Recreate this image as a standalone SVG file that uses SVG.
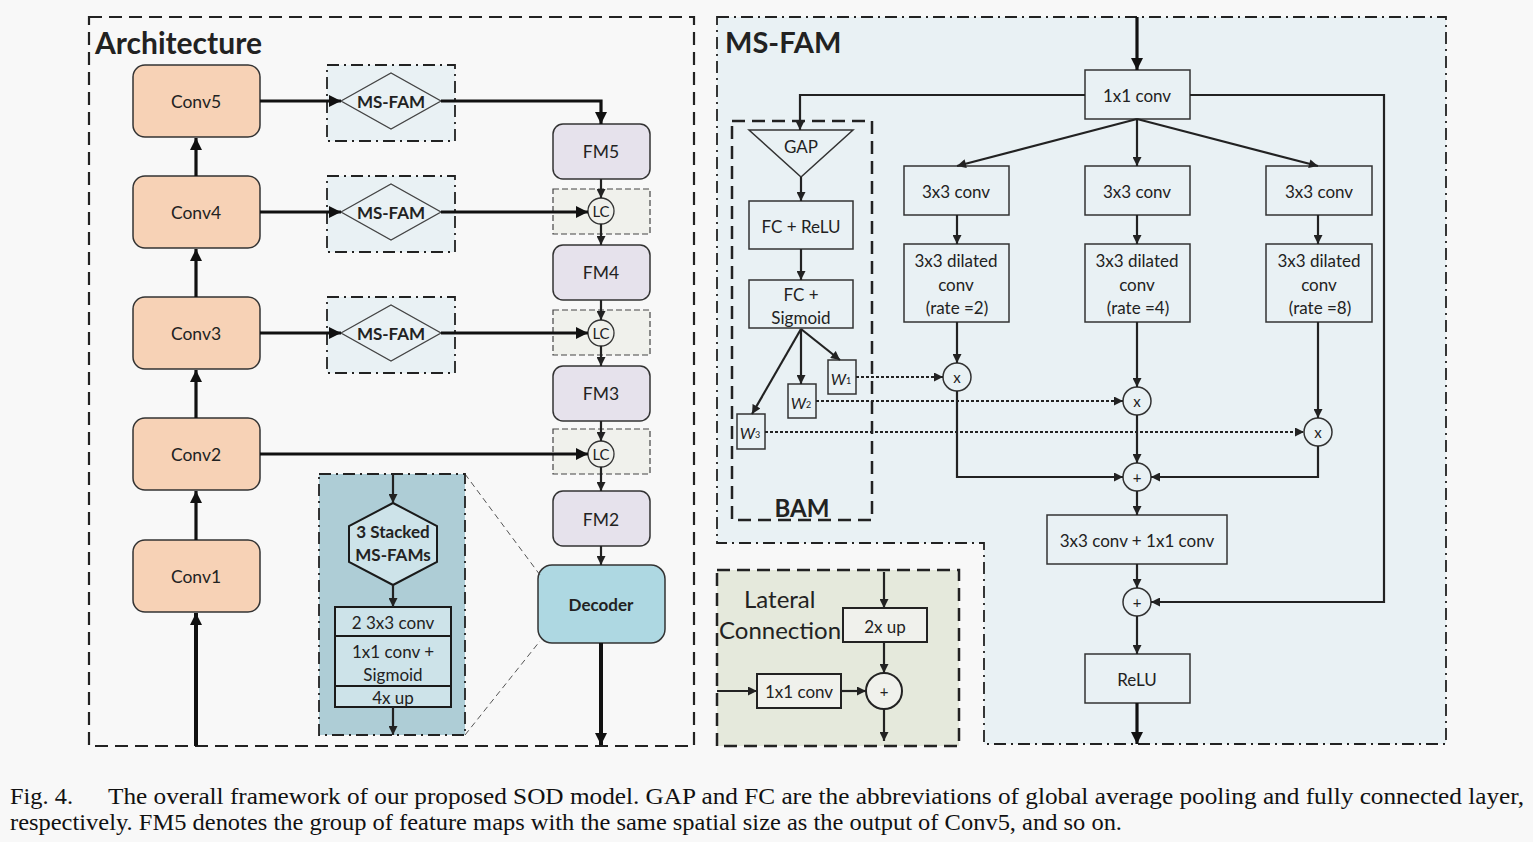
<svg xmlns="http://www.w3.org/2000/svg" width="1533" height="842" viewBox="0 0 1533 842">
<defs>
<style>
.t{font-family:Lato,"Open Sans","Liberation Sans",sans-serif;fill:#222;text-anchor:middle;dominant-baseline:central}
.b{font-weight:bold}
.conv{fill:#f7d2b6;stroke:#333;stroke-width:1.5}
.fm{fill:#e6e2ec;stroke:#333;stroke-width:1.5}
.bx{fill:none;stroke:#333;stroke-width:1.5}
.ln{fill:none;stroke:#222;stroke-width:2.2}
.thk{fill:none;stroke:#111;stroke-width:3.2}
.dot{fill:none;stroke:#222;stroke-width:2.2;stroke-dasharray:3 2}
.dashbig{stroke:#222;stroke-width:2.2;stroke-dasharray:13 7}
.dashdot{stroke:#222;stroke-width:1.8;stroke-dasharray:12 5 2 5}
.cap{font-family:"Liberation Serif","Times New Roman",serif;font-size:23px;fill:#111}
</style>
<marker id="a" viewBox="0 0 10 10" refX="10" refY="5" markerWidth="10" markerHeight="9" markerUnits="userSpaceOnUse" orient="auto"><path d="M0,0L10,5L0,10z" fill="#222"/></marker>
<marker id="A" viewBox="0 0 10 10" refX="10" refY="5" markerWidth="14" markerHeight="12" markerUnits="userSpaceOnUse" orient="auto"><path d="M0,0L10,5L0,10z" fill="#111"/></marker>
</defs>
<rect width="1533" height="842" fill="#f8f8f8"/>

<!-- containers -->
<g id="architecture-frame">
<rect x="89" y="17" width="605" height="729" fill="none" class="dashbig"/>
<text x="95" y="42" class="t b" style="text-anchor:start;font-size:30px">Architecture</text>
</g>
<g id="msfam-frame">
<path d="M717,17H1446V744H984V543H717Z" fill="#e9f1f4" class="dashdot"/>
<text x="725" y="41" class="t b" style="text-anchor:start;font-size:29px">MS-FAM</text>
</g>

<!-- Architecture nodes -->
<g id="conv5"><rect x="133" y="65" width="127" height="72" rx="12" class="conv"/><text x="196" y="101" class="t" font-size="17.5">Conv5</text></g>
<g id="conv4"><rect x="133" y="176" width="127" height="72" rx="12" class="conv"/><text x="196" y="212" class="t" font-size="17.5">Conv4</text></g>
<g id="conv3"><rect x="133" y="297" width="127" height="72" rx="12" class="conv"/><text x="196" y="333" class="t" font-size="17.5">Conv3</text></g>
<g id="conv2"><rect x="133" y="418" width="127" height="72" rx="12" class="conv"/><text x="196" y="454" class="t" font-size="17.5">Conv2</text></g>
<g id="conv1"><rect x="133" y="540" width="127" height="72" rx="12" class="conv"/><text x="196" y="576" class="t" font-size="17.5">Conv1</text></g>

<g id="msfam5"><rect x="327" y="65" width="128" height="76" fill="#e9f1f4" class="dashdot"/><path d="M341,101L391,73L441,101L391,129Z" fill="#e9f1f4" stroke="#444" stroke-width="1.3"/><text x="391" y="101" class="t b" font-size="17">MS-FAM</text></g>
<g id="msfam4"><rect x="327" y="176" width="128" height="76" fill="#e9f1f4" class="dashdot"/><path d="M341,212L391,184L441,212L391,240Z" fill="#e9f1f4" stroke="#444" stroke-width="1.3"/><text x="391" y="212" class="t b" font-size="17">MS-FAM</text></g>
<g id="msfam3"><rect x="327" y="297" width="128" height="76" fill="#e9f1f4" class="dashdot"/><path d="M341,333L391,305L441,333L391,361Z" fill="#e9f1f4" stroke="#444" stroke-width="1.3"/><text x="391" y="333" class="t b" font-size="17">MS-FAM</text></g>

<g id="fm5"><rect x="553" y="124" width="97" height="55" rx="10" class="fm"/><text x="601" y="151" class="t" font-size="17.5">FM5</text></g>
<g id="fm4"><rect x="553" y="245" width="97" height="55" rx="10" class="fm"/><text x="601" y="272" class="t" font-size="17.5">FM4</text></g>
<g id="fm3"><rect x="553" y="366" width="97" height="55" rx="10" class="fm"/><text x="601" y="393" class="t" font-size="17.5">FM3</text></g>
<g id="fm2"><rect x="553" y="491" width="97" height="55" rx="10" class="fm"/><text x="601" y="519" class="t" font-size="17.5">FM2</text></g>

<g id="lc1"><rect x="553" y="189" width="97" height="45" fill="#f0f1ec" stroke="#444" stroke-width="1.2" stroke-dasharray="6 3"/><circle cx="601" cy="211" r="13" fill="#f0f1ec" stroke="#333" stroke-width="1.3"/><text x="601" y="211" class="t" font-size="15">LC</text></g>
<g id="lc2"><rect x="553" y="310" width="97" height="45" fill="#f0f1ec" stroke="#444" stroke-width="1.2" stroke-dasharray="6 3"/><circle cx="601" cy="333" r="13" fill="#f0f1ec" stroke="#333" stroke-width="1.3"/><text x="601" y="333" class="t" font-size="15">LC</text></g>
<g id="lc3"><rect x="553" y="429" width="97" height="45" fill="#f0f1ec" stroke="#444" stroke-width="1.2" stroke-dasharray="6 3"/><circle cx="601" cy="454" r="13" fill="#f0f1ec" stroke="#333" stroke-width="1.3"/><text x="601" y="454" class="t" font-size="15">LC</text></g>

<g id="decoder"><rect x="538" y="565" width="127" height="78" rx="14" fill="#aed8e2" stroke="#333" stroke-width="1.5"/><text x="601" y="604" class="t b" font-size="17">Decoder</text></g>

<g id="decoder-detail">
<line x1="465" y1="474" x2="540" y2="575" stroke="#555" stroke-width="1" stroke-dasharray="6 4"/>
<line x1="465" y1="735" x2="540" y2="641" stroke="#555" stroke-width="1" stroke-dasharray="6 4"/>
<rect x="319" y="474" width="146" height="261" fill="#aecdd6" class="dashdot"/>
<path d="M393,503L437,526L437,562L393,585L349,562L349,526Z" fill="#cde3e9" stroke="#1a1a1a" stroke-width="2"/>
<text x="393" y="531" class="t b" font-size="17">3 Stacked</text>
<text x="393" y="554" class="t b" font-size="17">MS-FAMs</text>
<rect x="335" y="607" width="116" height="100" fill="#cde3e9" stroke="#1a1a1a" stroke-width="2"/>
<line x1="335" y1="636" x2="451" y2="636" stroke="#1a1a1a" stroke-width="2"/>
<line x1="335" y1="686" x2="451" y2="686" stroke="#1a1a1a" stroke-width="2"/>
<text x="393" y="622" class="t" font-size="17">2 3x3 conv</text>
<text x="393" y="651" class="t" font-size="17">1x1 conv +</text>
<text x="393" y="674" class="t" font-size="17">Sigmoid</text>
<text x="393" y="697" class="t" font-size="17">4x up</text>
</g>

<!-- MS-FAM nodes -->
<g id="c1x1"><rect x="1085" y="70" width="105" height="49" fill="#e9f1f4" class="bx"/><text x="1137" y="95" class="t" font-size="17">1x1 conv</text></g>
<g id="c3a"><rect x="904" y="166" width="105" height="49" fill="#e9f1f4" class="bx"/><text x="956" y="191" class="t" font-size="17">3x3 conv</text></g>
<g id="c3b"><rect x="1085" y="166" width="105" height="49" fill="#e9f1f4" class="bx"/><text x="1137" y="191" class="t" font-size="17">3x3 conv</text></g>
<g id="c3c"><rect x="1266" y="166" width="106" height="49" fill="#e9f1f4" class="bx"/><text x="1319" y="191" class="t" font-size="17">3x3 conv</text></g>
<g id="d2"><rect x="904" y="244" width="105" height="78" fill="#e9f1f4" class="bx"/><text x="956" y="260" class="t" font-size="17">3x3 dilated</text><text x="956" y="284" class="t" font-size="17">conv</text><text x="957" y="307" class="t" font-size="17">(rate =2)</text></g>
<g id="d4"><rect x="1085" y="244" width="105" height="78" fill="#e9f1f4" class="bx"/><text x="1137" y="260" class="t" font-size="17">3x3 dilated</text><text x="1137" y="284" class="t" font-size="17">conv</text><text x="1138" y="307" class="t" font-size="17">(rate =4)</text></g>
<g id="d8"><rect x="1266" y="244" width="106" height="78" fill="#e9f1f4" class="bx"/><text x="1319" y="260" class="t" font-size="17">3x3 dilated</text><text x="1319" y="284" class="t" font-size="17">conv</text><text x="1320" y="307" class="t" font-size="17">(rate =8)</text></g>
<g id="m1"><circle cx="957" cy="377" r="14" fill="#e9f1f4" class="bx"/><text x="957" y="377" class="t" font-size="15">x</text></g>
<g id="m2"><circle cx="1137" cy="401" r="14" fill="#e9f1f4" class="bx"/><text x="1137" y="401" class="t" font-size="15">x</text></g>
<g id="m3"><circle cx="1318" cy="432" r="14" fill="#e9f1f4" class="bx"/><text x="1318" y="432" class="t" font-size="15">x</text></g>
<g id="p1"><circle cx="1137" cy="477" r="14" fill="#e9f1f4" class="bx"/><text x="1137" y="477" class="t" font-size="15">+</text></g>
<g id="c31"><rect x="1047" y="515" width="180" height="49" fill="#e9f1f4" class="bx"/><text x="1137" y="540" class="t" font-size="17">3x3 conv + 1x1 conv</text></g>
<g id="p2"><circle cx="1137" cy="602" r="14" fill="#e9f1f4" class="bx"/><text x="1137" y="602" class="t" font-size="15">+</text></g>
<g id="relu"><rect x="1085" y="654" width="105" height="49" fill="#e9f1f4" class="bx"/><text x="1137" y="679" class="t" font-size="17">ReLU</text></g>

<g id="bam">
<rect x="732" y="121" width="140" height="399" fill="none" class="dashbig" style="stroke-width:2.5"/>
<path d="M749,130H853L801,177Z" fill="#e9f1f4" class="bx"/>
<text x="801" y="146" class="t" font-size="17">GAP</text>
<rect x="749" y="201" width="104" height="48" fill="#e9f1f4" class="bx"/><text x="801" y="226" class="t" font-size="17">FC + ReLU</text>
<rect x="749" y="280" width="104" height="48" fill="#e9f1f4" class="bx"/><text x="801" y="294" class="t" font-size="17">FC +</text><text x="801" y="317" class="t" font-size="17">Sigmoid</text>
<rect x="828" y="360" width="28" height="34" fill="#e9f1f4" class="bx"/><text x="841" y="378" class="t" font-size="16" font-style="italic">W<tspan font-size="9" font-style="normal" dy="2">1</tspan></text>
<rect x="788" y="384" width="28" height="34" fill="#e9f1f4" class="bx"/><text x="801" y="402" class="t" font-size="16" font-style="italic">W<tspan font-size="9" font-style="normal" dy="2">2</tspan></text>
<rect x="737" y="414" width="28" height="35" fill="#e9f1f4" class="bx"/><text x="750" y="432" class="t" font-size="16" font-style="italic">W<tspan font-size="9" font-style="normal" dy="2">3</tspan></text>
<text x="802" y="507" class="t b" font-size="24">BAM</text>
</g>

<g id="lateral">
<rect x="717" y="570" width="242" height="176" fill="#e5e9dc" class="dashbig" style="stroke-width:2.5"/>
<text x="744" y="598" class="t" style="text-anchor:start" font-size="24">Lateral</text>
<text x="719" y="629" class="t" style="text-anchor:start" font-size="24">Connection</text>
<rect x="843" y="608" width="84" height="34" fill="#f0f1ec" stroke="#222" stroke-width="2"/><text x="885" y="626" class="t" font-size="17">2x up</text>
<rect x="757" y="674" width="84" height="34" fill="#f0f1ec" stroke="#222" stroke-width="2"/><text x="799" y="691" class="t" font-size="17">1x1 conv</text>
<circle cx="884" cy="691" r="18" fill="#f0f1ec" stroke="#222" stroke-width="2"/><text x="884" y="691" class="t" font-size="15">+</text>
</g>

<!-- connectors -->
<g id="connectors">
<line x1="196" y1="746" x2="196" y2="613" class="thk" style="stroke-width:4" marker-end="url(#A)"/>
<line x1="196" y1="540" x2="196" y2="491" class="thk" marker-end="url(#A)"/>
<line x1="196" y1="418" x2="196" y2="370" class="thk" marker-end="url(#A)"/>
<line x1="196" y1="297" x2="196" y2="249" class="thk" marker-end="url(#A)"/>
<line x1="196" y1="176" x2="196" y2="138" class="thk" marker-end="url(#A)"/>
<line x1="260" y1="101" x2="341" y2="101" class="thk" marker-end="url(#A)"/>
<line x1="260" y1="212" x2="341" y2="212" class="thk" marker-end="url(#A)"/>
<line x1="260" y1="333" x2="341" y2="333" class="thk" marker-end="url(#A)"/>
<path d="M441,101H601V124" class="thk" marker-end="url(#A)"/>
<line x1="441" y1="212" x2="588" y2="212" class="thk" marker-end="url(#A)"/>
<line x1="441" y1="333" x2="588" y2="333" class="thk" marker-end="url(#A)"/>
<line x1="260" y1="454" x2="588" y2="454" class="thk" marker-end="url(#A)"/>
<line x1="601" y1="179" x2="601" y2="198" class="ln" marker-end="url(#a)"/>
<line x1="601" y1="224" x2="601" y2="245" class="ln" marker-end="url(#a)"/>
<line x1="601" y1="300" x2="601" y2="320" class="ln" marker-end="url(#a)"/>
<line x1="601" y1="346" x2="601" y2="366" class="ln" marker-end="url(#a)"/>
<line x1="601" y1="421" x2="601" y2="441" class="ln" marker-end="url(#a)"/>
<line x1="601" y1="467" x2="601" y2="491" class="ln" marker-end="url(#a)"/>
<line x1="601" y1="546" x2="601" y2="565" class="ln" marker-end="url(#a)"/>
<line x1="601" y1="643" x2="601" y2="745" class="thk" style="stroke-width:4" marker-end="url(#A)"/>
<line x1="393" y1="474" x2="393" y2="503" class="ln" marker-end="url(#a)"/>
<line x1="393" y1="585" x2="393" y2="607" class="ln" marker-end="url(#a)"/>
<line x1="393" y1="707" x2="393" y2="735" class="ln" marker-end="url(#a)"/>

<line x1="1137" y1="17" x2="1137" y2="70" class="thk" marker-end="url(#A)"/>
<path d="M1085,95H800V130" class="ln" marker-end="url(#a)"/>
<path d="M1190,95H1384V602H1151" class="ln" marker-end="url(#a)"/>
<line x1="1137" y1="119" x2="957" y2="166" class="ln" marker-end="url(#a)"/>
<line x1="1137" y1="119" x2="1137" y2="166" class="ln" marker-end="url(#a)"/>
<line x1="1137" y1="119" x2="1318" y2="166" class="ln" marker-end="url(#a)"/>
<line x1="957" y1="215" x2="957" y2="244" class="ln" marker-end="url(#a)"/>
<line x1="1137" y1="215" x2="1137" y2="244" class="ln" marker-end="url(#a)"/>
<line x1="1318" y1="215" x2="1318" y2="244" class="ln" marker-end="url(#a)"/>
<line x1="957" y1="322" x2="957" y2="363" class="ln" marker-end="url(#a)"/>
<line x1="1137" y1="322" x2="1137" y2="387" class="ln" marker-end="url(#a)"/>
<line x1="1318" y1="322" x2="1318" y2="418" class="ln" marker-end="url(#a)"/>
<path d="M957,391V477H1123" class="ln" marker-end="url(#a)"/>
<line x1="1137" y1="415" x2="1137" y2="463" class="ln" marker-end="url(#a)"/>
<path d="M1318,446V477H1151" class="ln" marker-end="url(#a)"/>
<line x1="1137" y1="491" x2="1137" y2="515" class="ln" marker-end="url(#a)"/>
<line x1="1137" y1="564" x2="1137" y2="588" class="ln" marker-end="url(#a)"/>
<line x1="1137" y1="616" x2="1137" y2="654" class="ln" marker-end="url(#a)"/>
<line x1="1137" y1="703" x2="1137" y2="744" class="thk" marker-end="url(#A)"/>
<line x1="801" y1="177" x2="801" y2="201" class="ln" marker-end="url(#a)"/>
<line x1="801" y1="249" x2="801" y2="280" class="ln" marker-end="url(#a)"/>
<line x1="801" y1="329" x2="840" y2="360" class="ln" marker-end="url(#a)"/>
<line x1="801" y1="329" x2="801" y2="384" class="ln" marker-end="url(#a)"/>
<line x1="801" y1="329" x2="752" y2="414" class="ln" marker-end="url(#a)"/>
<line x1="856" y1="377" x2="943" y2="377" class="dot" marker-end="url(#a)"/>
<line x1="816" y1="401" x2="1123" y2="401" class="dot" marker-end="url(#a)"/>
<line x1="765" y1="432" x2="1304" y2="432" class="dot" marker-end="url(#a)"/>

<line x1="884" y1="572" x2="884" y2="608" class="ln" marker-end="url(#a)"/>
<line x1="884" y1="642" x2="884" y2="673" class="ln" marker-end="url(#a)"/>
<line x1="717" y1="691" x2="757" y2="691" class="ln" marker-end="url(#a)"/>
<line x1="841" y1="691" x2="866" y2="691" class="ln" marker-end="url(#a)"/>
<line x1="884" y1="709" x2="884" y2="741" class="ln" marker-end="url(#a)"/>
</g>

<g id="caption">
<text x="10" y="804" class="cap" textLength="63" lengthAdjust="spacingAndGlyphs">Fig. 4.</text>
<text x="108" y="804" class="cap" textLength="1416" lengthAdjust="spacingAndGlyphs">The overall framework of our proposed SOD model. GAP and FC are the abbreviations of global average pooling and fully connected layer,</text>
<text x="10" y="830" class="cap" textLength="1112" lengthAdjust="spacingAndGlyphs">respectively. FM5 denotes the group of feature maps with the same spatial size as the output of Conv5, and so on.</text>
</g>
</svg>
